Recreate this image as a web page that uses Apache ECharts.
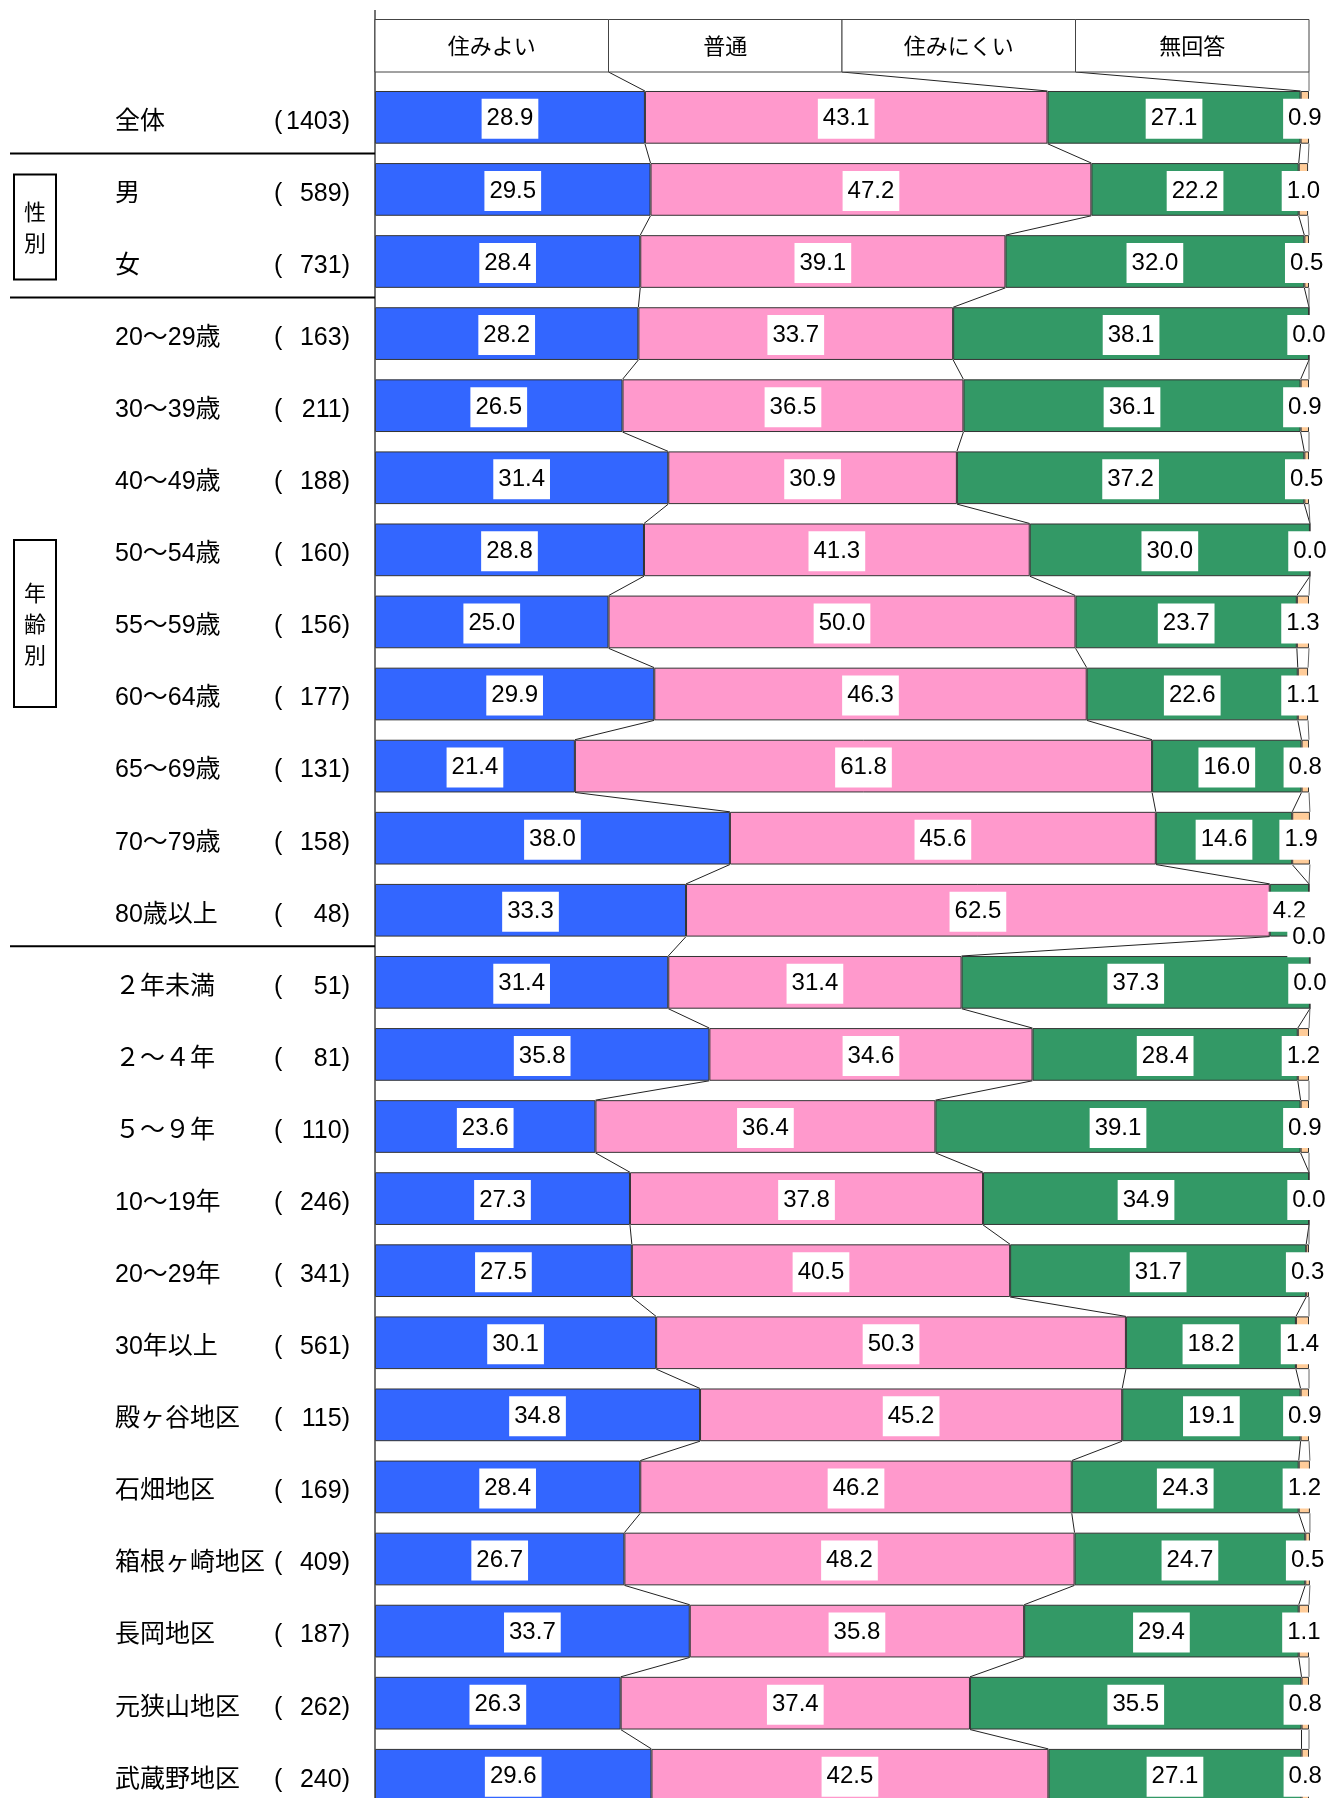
<!DOCTYPE html>
<html>
<head>
<meta charset="utf-8">
<script src="https://cdn.jsdelivr.net/npm/echarts@6/dist/echarts.min.js"></script>
<style>
  html, body { margin: 0; padding: 0; overflow: hidden; background: #fff; }
  #chart { width: 1326px; height: 1830px; }
</style>
</head>
<body>
<div id="chart"></div>
<script>
// 回答者の属性別にみた「住みやすさ」の割合（％）
const categories = ['全体', '男', '女', '20～29歳', '30～39歳', '40～49歳', '50～54歳', '55～59歳',
  '60～64歳', '65～69歳', '70～79歳', '80歳以上', '２年未満', '２～４年', '５～９年', '10～19年',
  '20～29年', '30年以上', '殿ヶ谷地区', '石畑地区', '箱根ヶ崎地区', '長岡地区', '元狭山地区', '武蔵野地区'];
const sampleSizes = [1403, 589, 731, 163, 211, 188, 160, 156, 177, 131, 158, 48, 51, 81, 110, 246,
  341, 561, 115, 169, 409, 187, 262, 240];
const seriesNames = ['住みよい', '普通', '住みにくい', '無回答'];
const sumiyoi = [28.9, 29.5, 28.4, 28.2, 26.5, 31.4, 28.8, 25.0, 29.9, 21.4, 38.0, 33.3,
  31.4, 35.8, 23.6, 27.3, 27.5, 30.1, 34.8, 28.4, 26.7, 33.7, 26.3, 29.6];
const futsuu = [43.1, 47.2, 39.1, 33.7, 36.5, 30.9, 41.3, 50.0, 46.3, 61.8, 45.6, 62.5,
  31.4, 34.6, 36.4, 37.8, 40.5, 50.3, 45.2, 46.2, 48.2, 35.8, 37.4, 42.5];
const suminikui = [27.1, 22.2, 32.0, 38.1, 36.1, 37.2, 30.0, 23.7, 22.6, 16.0, 14.6, 4.2,
  37.3, 28.4, 39.1, 34.9, 31.7, 18.2, 19.1, 24.3, 24.7, 29.4, 35.5, 27.1];
const mukaitou = [0.9, 1.0, 0.5, 0.0, 0.9, 0.5, 0.0, 1.3, 1.1, 0.8, 1.9, 0.0,
  0.0, 1.2, 0.9, 0.0, 0.3, 1.4, 0.9, 1.2, 0.5, 1.1, 0.8, 0.8];
// 区分の見出し（行番号の範囲）と区切り線を引く行
const groups = [
  { label: '性\n別', from: 1, to: 2, height: 105 },
  { label: '年\n齢\n別', from: 3, to: 11, height: 167 }
];
const separatorAfter = [0, 2, 11];

const values = [sumiyoi, futsuu, suminikui, mukaitou];
const colors = ['#3366FF', '#FF99CC', '#339966', '#FFCC99'];
const BAR_RATIO = 0.731;
const HEADER_TOP = 19.5, HEADER_BOTTOM = 72, AXIS_TOP = 10;
const JP = "'Noto Sans CJK JP', sans-serif";
const LABEL_FONT = "'Liberation Sans', 'Noto Sans CJK JP', sans-serif";
const NUM_FONT = "'Liberation Sans Narrow', 'Arial Narrow', 'Liberation Sans', sans-serif";

// 各行の区分境界（累積値）
function cumulative(row) {
  let s = 0;
  return values.map(arr => (s += arr[row]));
}

const barSeries = values.map((arr, k) => ({
  name: seriesNames[k],
  type: 'bar',
  stack: 'total',
  barWidth: (BAR_RATIO * 100) + '%',
  clip: false,
  z: 3,
  itemStyle: { color: colors[k], borderColor: '#333', borderWidth: 1 },
  label: {
    show: true,
    position: 'inside',
    offset: [0, 1.5],
    formatter: p => Number(p.value).toFixed(1),
    color: '#000',
    fontFamily: NUM_FONT,
    fontSize: 24,
    lineHeight: 24,
    backgroundColor: '#fff',
    padding: [10, 5, 6, 5]
  },
  // 80歳以上の無回答 0.0 は棒の下にずらして表示
  data: arr.map((v, i) => (k === 3 && i === 11) ? { value: v, label: { offset: [0, 27] } } : v)
}));

// 隣り合う棒の区分境界を結ぶ線
const connectorSeries = {
  type: 'custom',
  z: 1,
  clip: false,
  silent: true,
  encode: { x: 0, y: 1 },
  data: categories.map((c, i) => [0, i]),
  renderItem(params, api) {
    const i = api.value(1);
    const half = api.size([0, 1])[1] * BAR_RATIO / 2;
    const cur = cumulative(i);
    const curTop = api.coord([0, i])[1] - half;
    let prev, prevY;
    if (i === 0) {
      prev = [25, 50, 75, 100];
      prevY = HEADER_BOTTOM;
    } else {
      prev = cumulative(i - 1);
      prevY = api.coord([0, i - 1])[1] + half;
    }
    const children = cur.map((c, k) => ({
      type: 'line',
      shape: {
        x1: api.coord([prev[k], i])[0], y1: prevY,
        x2: api.coord([c, i])[0], y2: curTop
      },
      style: { stroke: k === 3 ? '#666' : '#222', lineWidth: 1 }
    }));
    return { type: 'group', children };
  }
};

const option = {
  animation: false,
  backgroundColor: '#fff',
  grid: { left: 375, right: 17, top: 81.3, bottom: 18.7, containLabel: false },
  xAxis: { type: 'value', min: 0, max: 100, show: false },
  yAxis: {
    type: 'category',
    inverse: true,
    data: categories,
    axisLine: { show: false },
    axisTick: { show: false },
    splitLine: { show: false },
    axisLabel: {
      margin: 25,
      padding: [9, 0, 0, 0],
      formatter: (v, i) => `{nm|${v}}{lp|(}{n|${sampleSizes[i]})}`,
      rich: {
        nm: { width: 159, align: 'left', fontSize: 25, fontFamily: LABEL_FONT, color: '#000' },
        lp: { width: 12, align: 'left', fontSize: 25, fontFamily: LABEL_FONT, color: '#000' },
        n: { width: 64, align: 'right', fontSize: 25, fontFamily: LABEL_FONT, color: '#000' }
      }
    }
  },
  series: [connectorSeries, ...barSeries]
};

const chart = echarts.init(document.getElementById('chart'), null, { renderer: 'canvas' });
chart.setOption(option);

// 見出し枠・区切り線・区分見出しを軸の位置から配置
const toPx = (x, row) => chart.convertToPixel({ gridIndex: 0 }, [x, row]);
const band = toPx(0, 1)[1] - toPx(0, 0)[1];
const rowCenter = i => toPx(0, i)[1];
const x0 = toPx(0, 0)[0];
const graphics = [];

const headerEdges = [0, 25, 50, 75, 100].map(v => toPx(v, 0)[0]);
seriesNames.forEach((name, k) => {
  graphics.push({
    type: 'rect', z: 5,
    shape: { x: headerEdges[k], y: HEADER_TOP, width: headerEdges[k + 1] - headerEdges[k], height: HEADER_BOTTOM - HEADER_TOP },
    style: { fill: '#fff', stroke: '#444', lineWidth: 1 }
  });
  graphics.push({
    type: 'text', z: 6,
    style: {
      text: name, x: (headerEdges[k] + headerEdges[k + 1]) / 2, y: (HEADER_TOP + HEADER_BOTTOM) / 2,
      align: 'center', verticalAlign: 'middle', font: `22px ${JP}`, fill: '#000'
    }
  });
});

graphics.push({
  type: 'line', z: 4,
  shape: { x1: x0, y1: AXIS_TOP, x2: x0, y2: 1830 },
  style: { stroke: '#444', lineWidth: 1.5 }
});

separatorAfter.forEach(i => {
  const y = rowCenter(i) + band / 2;
  graphics.push({
    type: 'line', z: 4,
    shape: { x1: 10, y1: y, x2: x0, y2: y },
    style: { stroke: '#000', lineWidth: 2 }
  });
});

groups.forEach(g => {
  const mid = (rowCenter(g.from) + rowCenter(g.to)) / 2 + 1.5;
  graphics.push({
    type: 'rect', z: 4,
    shape: { x: 14, y: mid - g.height / 2, width: 42, height: g.height },
    style: { fill: '#fff', stroke: '#000', lineWidth: 2 }
  });
  graphics.push({
    type: 'text', z: 5,
    style: {
      text: g.label, x: 35, y: mid, align: 'center', verticalAlign: 'middle',
      font: `22px ${JP}`, lineHeight: 31, fill: '#000'
    }
  });
});

chart.setOption({ graphic: graphics });
</script>
</body>
</html>
